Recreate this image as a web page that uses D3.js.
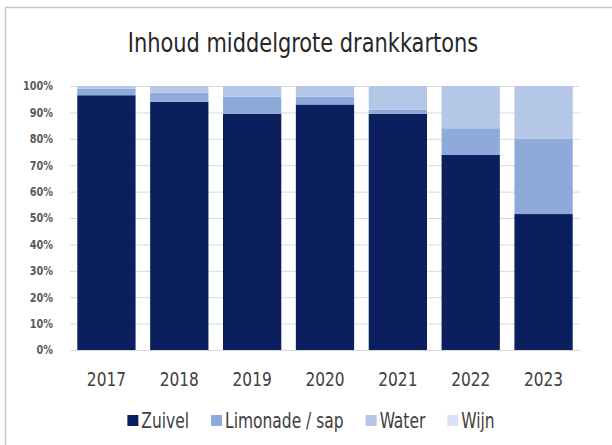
<!DOCTYPE html>
<html>
<head>
<meta charset="utf-8">
<script src="https://cdn.jsdelivr.net/npm/d3@7"></script>
<style>
  body { margin: 0; background: #fff; }
  text { font-family: "DejaVu Sans Condensed", "DejaVu Sans", sans-serif; }
</style>
</head>
<body>
<div id="vis"></div>
<script>
// Stacked 100% bar chart: contents of medium drink cartons

/* *************************** Data ***************************** */
var years = ['2017', '2018', '2019', '2020', '2021', '2022', '2023'];
var seriesNames = ['Zuivel', 'Limonade / sap', 'Water', 'Wijn'];
var zuivel = [96.5, 94, 89.5, 93, 89.5, 74, 51.5];
var limonade = [2.5, 3.5, 6.5, 3, 1.5, 10, 28.5];
var water = [1, 2.5, 4, 4, 9, 16, 20];
var wijn = [0, 0, 0, 0, 0, 0, 0];
var yTicks = [0, 10, 20, 30, 40, 50, 60, 70, 80, 90, 100];
var colors = ['#0b1f5e', '#8eaadb', '#b4c7e7', '#dae3f3'];

/* *************************** Settings ***************************** */
var width = 612;
var height = 445;
var margin = { left: 70, right: 32, top: 86, bottom: 95 };
var drawWidth = width - margin.left - margin.right;
var drawHeight = height - margin.top - margin.bottom;
var fontStack = '"DejaVu Sans Condensed", "DejaVu Sans", sans-serif';
// the original font is narrower still; squeeze a bit more horizontally
var legendSqueeze = 0.82;

var rows = years.map(function(y, i) {
    return { year: y, 'Zuivel': zuivel[i], 'Limonade / sap': limonade[i], 'Water': water[i], 'Wijn': wijn[i] };
});

var svg = d3.select('#vis')
    .append('svg')
    .attr('width', width)
    .attr('height', height);

// thin frame (top + left edge visible in the original)
svg.append('path')
    .attr('d', 'M5.5,' + height + 'V7.5H' + width)
    .attr('fill', 'none')
    .attr('stroke', '#c8c8c8')
    .attr('stroke-width', 1.5);

// Title
svg.append('text')
    .attr('transform', 'translate(303,52) scale(0.895,1)')
    .attr('text-anchor', 'middle')
    .style('font-size', '26px')
    .style('fill', '#262626')
    .text('Inhoud middelgrote drankkartons');

var g = svg.append('g')
    .attr('transform', 'translate(' + margin.left + ',' + margin.top + ')');

/* *************************** Scales ***************************** */
var xScale = d3.scaleBand()
    .domain(years)
    .range([0, drawWidth])
    .paddingInner(0.2)
    .paddingOuter(0.1);

var yScale = d3.scaleLinear()
    .domain([0, 100])
    .range([drawHeight, 0]);

// Gridlines
var yAxis = d3.axisLeft(yScale)
    .tickValues(yTicks)
    .tickSize(-drawWidth)
    .tickFormat(function(d) { return d + '%'; });

var yAxisG = g.append('g').call(yAxis);
yAxisG.select('.domain').remove();
yAxisG.selectAll('.tick line').attr('stroke', '#d9d9d9');
yAxisG.selectAll('.tick text')
    .attr('x', 0)
    .attr('transform', 'translate(-17,0) scale(0.9,1)')
    .style('font-size', '12px')
    .style('font-weight', 'bold')
    .style('fill', '#595959')
    .style('font-family', fontStack);

/* *************************** Bars ***************************** */
var stack = d3.stack().keys(seriesNames);
var layers = stack(rows);

g.selectAll('.layer')
    .data(layers)
    .enter().append('g')
    .attr('class', 'layer')
    .attr('fill', function(d, i) { return colors[i]; })
    .selectAll('rect')
    .data(function(d) { return d; })
    .enter().append('rect')
    .attr('x', function(d) { return xScale(d.data.year); })
    .attr('width', xScale.bandwidth())
    .attr('y', function(d) { return yScale(d[1]); })
    .attr('height', function(d) { return yScale(d[0]) - yScale(d[1]); });

// X axis labels
var xAxis = d3.axisBottom(xScale).tickSize(0);
var xAxisG = g.append('g')
    .attr('transform', 'translate(0,' + drawHeight + ')')
    .call(xAxis);
xAxisG.select('.domain').attr('stroke', '#d9d9d9');
xAxisG.selectAll('.tick text')
    .attr('y', 0)
    .attr('dy', 0)
    .attr('transform', 'translate(0,36) scale(0.9,1)')
    .style('font-size', '19px')
    .style('fill', '#404040')
    .style('font-family', fontStack);

/* *************************** Legend ***************************** */
var legend = svg.append('g');
var lx = 0;
seriesNames.forEach(function(name, i) {
    var item = legend.append('g').attr('transform', 'translate(' + lx + ',0)');
    item.append('rect')
        .attr('x', 0)
        .attr('y', -13)
        .attr('width', 11)
        .attr('height', 11)
        .attr('fill', colors[i]);
    var t = item.append('text')
        .attr('transform', 'translate(14,0) scale(' + legendSqueeze + ',1)')
        .style('font-size', '21px')
        .style('fill', '#404040')
        .text(name);
    lx += 14 + t.node().getComputedTextLength() * legendSqueeze + 22;
});
lx -= 22;
legend.attr('transform', 'translate(' + (311 - lx / 2) + ',428)');
</script>
</body>
</html>
